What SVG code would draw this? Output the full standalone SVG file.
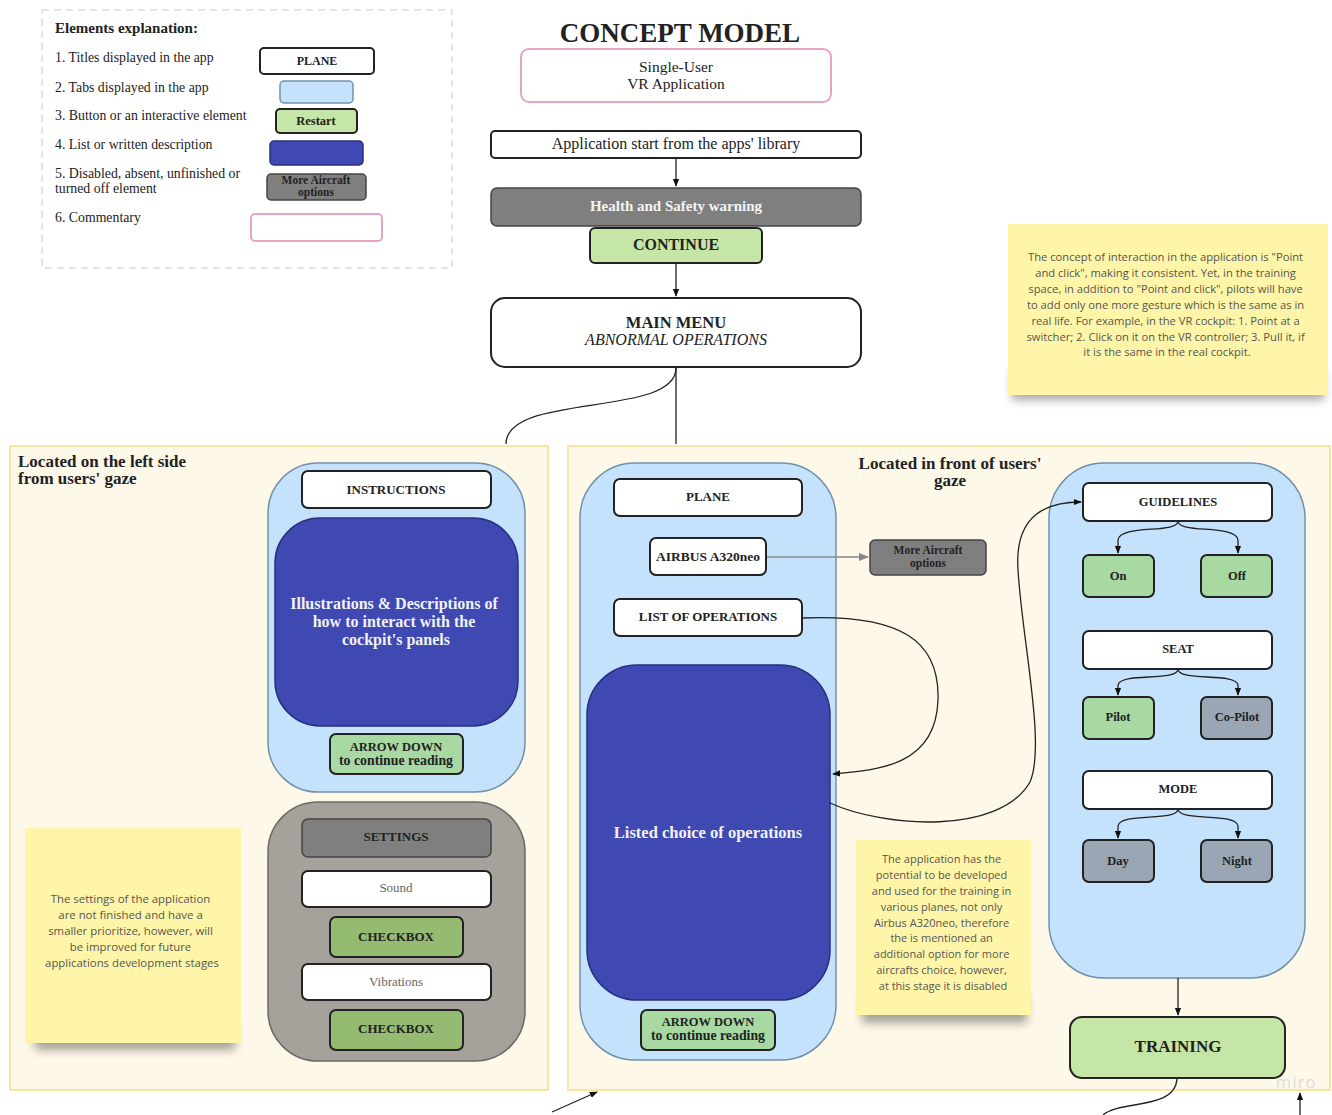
<svg xmlns="http://www.w3.org/2000/svg" width="1332" height="1115" viewBox="0 0 1332 1115">
<defs>
<marker id="ah" viewBox="0 0 10 10" refX="9" refY="5" markerWidth="8" markerHeight="8" orient="auto-start-reverse" markerUnits="userSpaceOnUse">
<path d="M0,1 L10,5 L0,9 z" fill="#111"/>
</marker>
<marker id="ahg" viewBox="0 0 10 10" refX="9" refY="5" markerWidth="14" markerHeight="10" orient="auto" markerUnits="userSpaceOnUse">
<path d="M0,1 L10,5 L0,9 z" fill="#888"/>
</marker>
<filter id="blur" x="-20%" y="-100%" width="140%" height="300%"><feGaussianBlur stdDeviation="5"/></filter>
<style>
text{font-family:"Liberation Serif","DejaVu Serif",serif;fill:#222}
.c{text-anchor:middle}
.b{font-weight:bold}
.s{font-family:"Open Sans","Liberation Sans",sans-serif;fill:#555;text-anchor:middle}
.area{fill:#fdf8e8;stroke:#f5e6a6;stroke-width:2}
.tab{fill:#c4e2fb;stroke:#7191aa;stroke-width:1.5}
.gtab{fill:#a4a29a;stroke:#6a6a66;stroke-width:1.5}
.title{fill:#fff;stroke:#222;stroke-width:2}
.btn{fill:#c5e6a6;stroke:#222;stroke-width:2}
.btn2{fill:#a8d9a2;stroke:#222;stroke-width:2}
.btn3{fill:#95bb73;stroke:#222;stroke-width:2}
.dis{fill:#7f7f7f;stroke:#444;stroke-width:1.5}
.gb{fill:#9aa6b3;stroke:#222;stroke-width:2}
.desc{fill:#3f49b1;stroke:#273080;stroke-width:1.5}
.pink{fill:#fff;stroke:#e6a5c6;stroke-width:2}
.sticky{fill:#fff5a8}
.ln{fill:none;stroke:#222;stroke-width:1.3}
</style>
</defs>
<rect width="1332" height="1115" fill="#fff"/>

<g id="legend">
<rect x="42" y="10" width="410" height="258" fill="#fff" stroke="#ddd" stroke-width="1.5" stroke-dasharray="7,5"/>
<text x="55" y="33" class="b" font-size="15">Elements explanation:</text>
<text x="55" y="62" font-size="13.8">1. Titles displayed in the app</text>
<text x="55" y="92" font-size="13.8">2. Tabs displayed in the app</text>
<text x="55" y="120" font-size="13.8">3. Button or an interactive element</text>
<text x="55" y="149" font-size="13.8">4. List or written description</text>
<text x="55" y="178" font-size="13.8">5. Disabled, absent, unfinished or</text>
<text x="55" y="193" font-size="13.8">turned off element</text>
<text x="55" y="222" font-size="13.8">6. Commentary</text>
<rect x="260" y="48" width="114" height="26" rx="4" class="title"/>
<text x="317" y="65" class="c b" font-size="12">PLANE</text>
<rect x="280" y="81" width="73" height="22" rx="4" class="tab"/>
<rect x="276" y="109" width="81" height="24" rx="4" class="btn"/>
<text x="316" y="125" class="c b" font-size="12.5">Restart</text>
<rect x="270" y="141" width="93" height="24" rx="4" class="desc"/>
<rect x="267" y="174" width="99" height="26" rx="4" class="dis"/>
<text x="316" y="184" class="c b" font-size="11.5" fill="#333">More Aircraft</text>
<text x="316" y="196" class="c b" font-size="11.5" fill="#333">options</text>
<rect x="251" y="214" width="131" height="27" rx="4" class="pink"/>
</g>

<g id="title">
<text x="680" y="42" class="c b" font-size="27">CONCEPT MODEL</text>
</g>
<g id="single-user">
<rect x="521" y="49" width="310" height="53" rx="8" class="pink"/>
<text x="676" y="72" class="c" font-size="15.5">Single-User</text>
<text x="676" y="89" class="c" font-size="15.5">VR Application</text>
</g>
<g id="app-start">
<rect x="491" y="131" width="370" height="27" rx="4" class="title"/>
<text x="676" y="149" class="c" font-size="16">Application start from the apps' library</text>
</g>
<g id="health">
<rect x="491" y="188" width="370" height="38" rx="6" class="dis" stroke="#222" stroke-width="2"/>
<text x="676" y="211" class="c b" font-size="15" style="fill:#f4f4f4">Health and Safety warning</text>
</g>
<g id="continue">
<rect x="590" y="228" width="172" height="35" rx="5" class="btn"/>
<text x="676" y="250" class="c b" font-size="16">CONTINUE</text>
</g>
<g id="main-menu">
<rect x="491" y="298" width="370" height="69" rx="14" class="title"/>
<text x="676" y="328" class="c b" font-size="16.5">MAIN MENU</text>
<text x="676" y="345" class="c" font-size="16" font-style="italic">ABNORMAL OPERATIONS</text>
</g>

<g id="sticky-top">
<rect x="1012" y="370" width="312" height="30" fill="#000" opacity="0.35" filter="url(#blur)"/>
<rect x="1008" y="224" width="320" height="171" class="sticky"/>
<text class="s" font-size="11.2">
<tspan x="1167" y="261">The concept of interaction in the application is "Point</tspan>
<tspan x="1167" y="277">and click", making it consistent. Yet, in the training</tspan>
<tspan x="1167" y="293">space, in addition to "Point and click", pilots will have</tspan>
<tspan x="1167" y="309">to add only one more gesture which is the same as in</tspan>
<tspan x="1167" y="325">real life. For example, in the VR cockpit: 1. Point at a</tspan>
<tspan x="1167" y="341">switcher; 2. Click on it on the VR controller; 3. Pull it, if</tspan>
<tspan x="1167" y="356">it is the same in the real cockpit.</tspan>
</text>
</g>

<g id="left-area">
<rect x="10" y="446" width="538" height="644" class="area"/>
<text x="18" y="467" class="b" font-size="17">Located on the left side</text>
<text x="18" y="484" class="b" font-size="17">from users' gaze</text>
</g>
<g id="instructions-tab">
<rect x="268" y="463" width="257" height="329" rx="50" class="tab"/>
<rect x="302" y="471" width="189" height="37" rx="6" class="title"/>
<text x="396" y="494" class="c b" font-size="13">INSTRUCTIONS</text>
<rect x="275" y="518" width="243" height="208" rx="45" class="desc"/>
<text class="c b" font-size="16" style="fill:#f2f2f8">
<tspan x="396" y="609">Illustrations &amp; Descriptions of</tspan>
<tspan x="396" y="627">how to interact with the</tspan>
<tspan x="396" y="645">cockpit's panels</tspan>
</text>
<rect x="330" y="734" width="133" height="40" rx="6" class="btn2"/>
<text x="396" y="751" class="c b" font-size="12.5">ARROW DOWN</text>
<text x="396" y="765" class="c b" font-size="13.8">to continue reading</text>
</g>
<g id="settings-tab">
<rect x="268" y="802" width="257" height="259" rx="50" class="gtab"/>
<rect x="302" y="819" width="189" height="38" rx="6" class="dis" stroke="#222" stroke-width="2"/>
<text x="396" y="841" class="c b" font-size="13" fill="#333">SETTINGS</text>
<rect x="302" y="871" width="189" height="36" rx="6" class="title"/>
<text x="396" y="892" class="c" font-size="13" style="fill:#666">Sound</text>
<rect x="330" y="917" width="133" height="40" rx="6" class="btn3"/>
<text x="396" y="941" class="c b" font-size="13">CHECKBOX</text>
<rect x="302" y="964" width="189" height="36" rx="6" class="title"/>
<text x="396" y="986" class="c" font-size="13" style="fill:#666">Vibrations</text>
<rect x="330" y="1010" width="133" height="40" rx="6" class="btn3"/>
<text x="396" y="1033" class="c b" font-size="13">CHECKBOX</text>
</g>
<g id="sticky-left">
<rect x="35" y="1020" width="200" height="30" fill="#000" opacity="0.35" filter="url(#blur)"/>
<rect x="25" y="828" width="216" height="215" class="sticky"/>
<text class="s" font-size="11.4">
<tspan x="132" y="903">The settings of the application</tspan>
<tspan x="132" y="919">are not finished and have a</tspan>
<tspan x="132" y="935">smaller prioritize, however, will</tspan>
<tspan x="132" y="951">be improved for future</tspan>
<tspan x="132" y="967">applications development stages</tspan>
</text>
</g>

<g id="front-area">
<rect x="568" y="446" width="762" height="644" class="area"/>
<text x="950" y="469" class="c b" font-size="17">Located in front of users'</text>
<text x="950" y="486" class="c b" font-size="17">gaze</text>
</g>
<g id="plane-tab">
<rect x="580" y="463" width="256" height="597" rx="55" class="tab"/>
<rect x="614" y="479" width="188" height="37" rx="6" class="title"/>
<text x="708" y="501" class="c b" font-size="13">PLANE</text>
<rect x="650" y="538" width="116" height="37" rx="6" class="title"/>
<text x="708" y="561" class="c b" font-size="13.5">AIRBUS A320neo</text>
<rect x="614" y="599" width="188" height="37" rx="6" class="title"/>
<text x="708" y="621" class="c b" font-size="13">LIST OF OPERATIONS</text>
<rect x="587" y="665" width="243" height="335" rx="50" class="desc"/>
<text x="708" y="838" class="c b" font-size="16.5" style="fill:#f2f2f8">Listed choice of operations</text>
<rect x="641" y="1010" width="134" height="40" rx="6" class="btn2"/>
<text x="708" y="1026" class="c b" font-size="12.5">ARROW DOWN</text>
<text x="708" y="1040" class="c b" font-size="13.8">to continue reading</text>
</g>
<g id="more-aircraft">
<rect x="870" y="540" width="116" height="35" rx="5" class="dis"/>
<text x="928" y="554" class="c b" font-size="11.5" fill="#333">More Aircraft</text>
<text x="928" y="567" class="c b" font-size="11.5" fill="#333">options</text>
</g>
<g id="sticky-mid">
<rect x="862" y="995" width="165" height="28" fill="#000" opacity="0.35" filter="url(#blur)"/>
<rect x="856" y="840" width="175" height="175" class="sticky"/>
<text class="s" font-size="11">
<tspan x="943" y="863">The application has the</tspan>
<tspan x="943" y="879">potential to be developed</tspan>
<tspan x="943" y="895">and used for the training in</tspan>
<tspan x="943" y="911">various planes, not only</tspan>
<tspan x="943" y="927">Airbus A320neo, therefore</tspan>
<tspan x="943" y="942">the is mentioned an</tspan>
<tspan x="943" y="958">additional option for more</tspan>
<tspan x="943" y="974">aircrafts choice, however,</tspan>
<tspan x="943" y="990">at this stage it is disabled</tspan>
</text>
</g>
<g id="settings-right-tab">
<rect x="1049" y="463" width="256" height="515" rx="55" class="tab"/>
<rect x="1083" y="483" width="189" height="38" rx="6" class="title"/>
<text x="1178" y="506" class="c b" font-size="12.5">GUIDELINES</text>
<rect x="1083" y="555" width="71" height="42" rx="6" class="btn2"/>
<text x="1118" y="580" class="c b" font-size="12.5">On</text>
<rect x="1201" y="555" width="71" height="42" rx="6" class="btn2"/>
<text x="1237" y="580" class="c b" font-size="12.5">Off</text>
<rect x="1083" y="631" width="189" height="38" rx="6" class="title"/>
<text x="1178" y="653" class="c b" font-size="12.5">SEAT</text>
<rect x="1083" y="697" width="71" height="42" rx="6" class="btn2"/>
<text x="1118" y="721" class="c b" font-size="12.5">Pilot</text>
<rect x="1201" y="697" width="71" height="42" rx="6" class="gb"/>
<text x="1237" y="721" class="c b" font-size="12.5">Co-Pilot</text>
<rect x="1083" y="771" width="189" height="38" rx="6" class="title"/>
<text x="1178" y="793" class="c b" font-size="12.5">MODE</text>
<rect x="1083" y="840" width="71" height="42" rx="6" class="gb"/>
<text x="1118" y="865" class="c b" font-size="12.5">Day</text>
<rect x="1201" y="840" width="71" height="42" rx="6" class="gb"/>
<text x="1237" y="865" class="c b" font-size="12.5">Night</text>
</g>
<g id="training">
<rect x="1070" y="1017" width="215" height="61" rx="12" class="btn" stroke-width="2"/>
<text x="1178" y="1052" class="c b" font-size="17">TRAINING</text>
</g>
<text x="1296" y="1088" class="c" font-size="17" style="font-family:'Open Sans',sans-serif;fill:#ddd;letter-spacing:1px">miro</text>

<g id="connectors">
<line x1="676" y1="159" x2="676" y2="186" class="ln" marker-end="url(#ah)"/>
<line x1="676" y1="264" x2="676" y2="296" class="ln" marker-end="url(#ah)"/>
<line x1="676" y1="368" x2="676" y2="444" class="ln"/>
<path d="M676,368 C676,418 506,392 506,444" class="ln"/>
<line x1="767" y1="557" x2="868" y2="557" stroke="#888" stroke-width="1.3" marker-end="url(#ahg)"/>
<path d="M802,618 C900,614 940,640 938,700 C936,765 880,770 833,774" class="ln" marker-end="url(#ah)"/>
<path d="M830,803 C885,828 1000,835 1030,782 C1046,745 1022,640 1018,570 C1014,512 1050,502 1081,502" class="ln" marker-end="url(#ah)"/>
<path d="M1178,521 C1178,534 1120,524 1118,540 L1118,553" class="ln" marker-end="url(#ah)"/>
<path d="M1178,521 C1178,534 1236,524 1238,540 L1238,553" class="ln" marker-end="url(#ah)"/>
<path d="M1178,669 C1178,682 1120,672 1118,685 L1118,695" class="ln" marker-end="url(#ah)"/>
<path d="M1178,669 C1178,682 1236,672 1238,685 L1238,695" class="ln" marker-end="url(#ah)"/>
<path d="M1178,809 C1178,822 1120,812 1118,826 L1118,838" class="ln" marker-end="url(#ah)"/>
<path d="M1178,809 C1178,822 1236,812 1238,826 L1238,838" class="ln" marker-end="url(#ah)"/>
<line x1="1178" y1="978" x2="1178" y2="1015" class="ln" marker-end="url(#ah)"/>
<path d="M1177,1079 C1175,1110 1120,1100 1103,1115" class="ln"/>
<line x1="1300" y1="1115" x2="1300" y2="1093" class="ln" marker-end="url(#ah)"/>
<line x1="552" y1="1112" x2="597" y2="1092" class="ln" marker-end="url(#ah)"/>
</g>
</svg>
